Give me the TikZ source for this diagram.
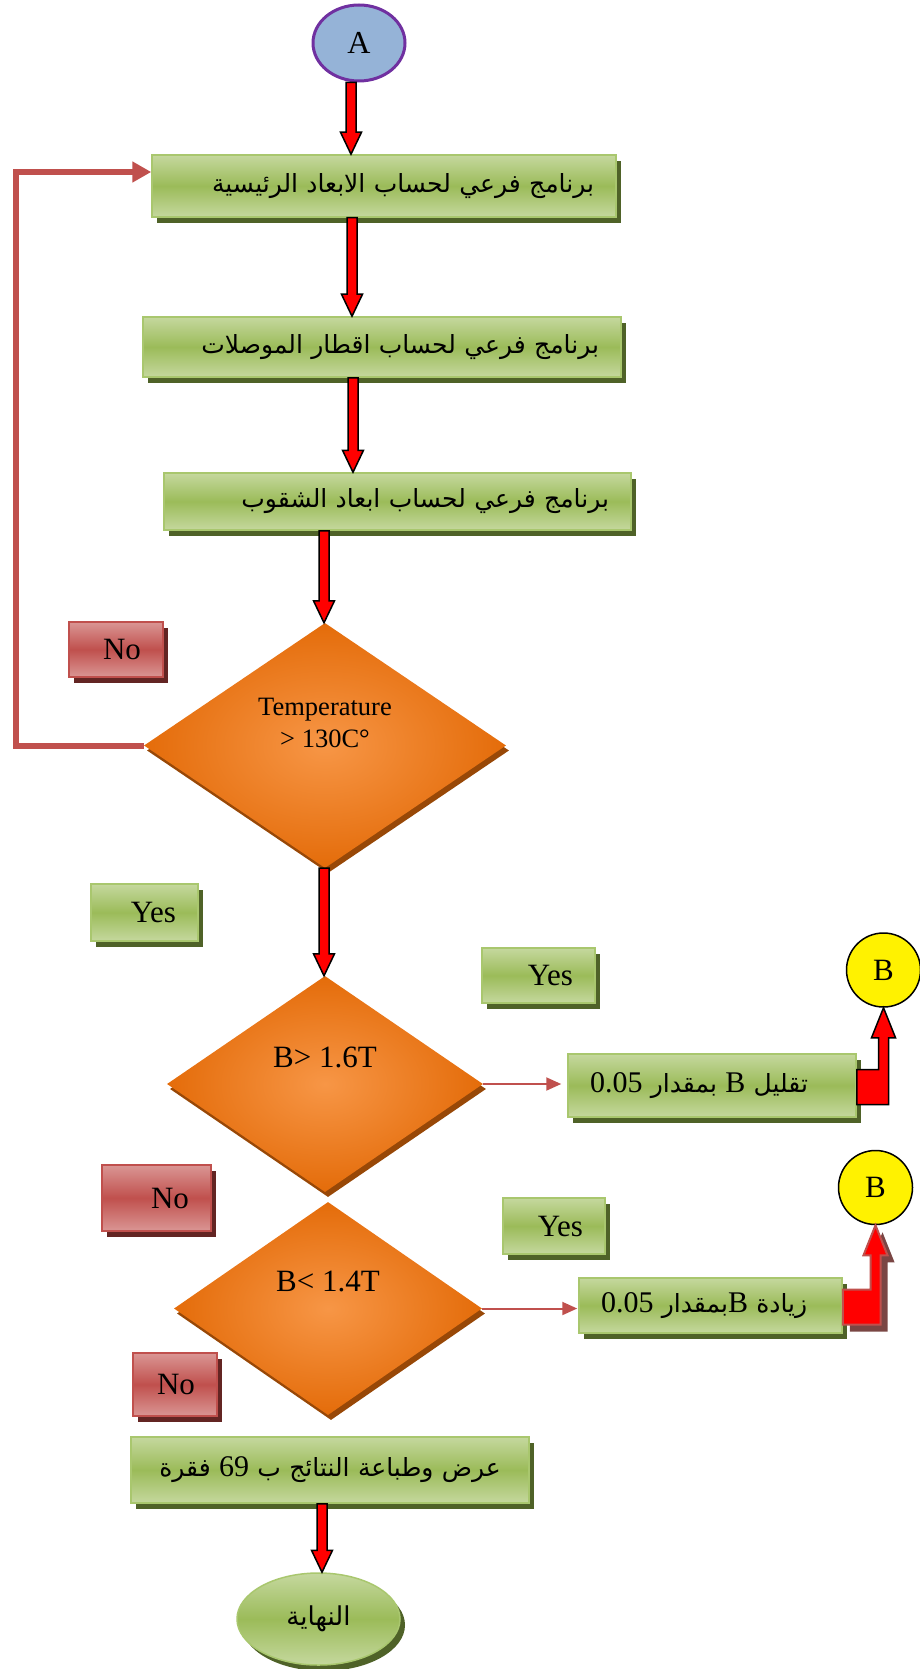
\documentclass[tikz,border=0pt]{standalone}
\usepackage{fontspec}
\setmainfont{Liberation Serif}
\newfontfamily\arabicfont[Script=Arabic]{DejaVu Sans}
\TeXXeTstate=1
\usetikzlibrary{
  arrows.meta,
  shapes.geometric,
  shadows,
  calc
}
\definecolor{fcgreen}{HTML}{9BBB59}
\definecolor{fcgreenlt}{HTML}{C5D89E}
\definecolor{fcgreenedge}{HTML}{A9C76E}
\definecolor{fcgreendk}{HTML}{4F6228}
\definecolor{fcred}{HTML}{C0504D}
\definecolor{fcredlt}{HTML}{DA9694}
\definecolor{fcreddk}{HTML}{632523}
\definecolor{fcorange}{HTML}{E46C0A}
\definecolor{fcorangelt}{HTML}{F79646}
\definecolor{fcorangedk}{HTML}{984807}
\definecolor{fcblue}{HTML}{95B3D7}
\definecolor{fcpurple}{HTML}{7030A0}

% latin pieces inside the arabic lines
\newcommand{\latn}[1]{{\rmfamily\fontsize{30}{36}\selectfont #1}}

% vertical block arrow, from the x of #1 down to the y of #2
\newcommand{\redarrow}[2]{%
  \draw[blockarrow] let \p1=(#1), \p2=(#2) in
    (\x1-5pt,\y1) -- (\x1+5pt,\y1) -- (\x1+5pt,\y2+22pt) -- (\x1+10.5pt,\y2+22pt)
    -- (\x1,\y2) -- (\x1-10.5pt,\y2+22pt) -- (\x1-5pt,\y2+22pt) -- cycle;}

% bent block arrow from the right side of a box up to a connector
\newcommand{\elbowto}[3]{%
  \draw[#1] let \p1=(#2.east), \p2=(#3.south) in
    (\x1,\y1+16pt) -- (\x2-5pt,\y1+16pt) -- (\x2-5pt,\y2-30pt) -- (\x2-12pt,\y2-30pt)
    -- (\x2,\y2) -- (\x2+12pt,\y2-30pt) -- (\x2+5pt,\y2-30pt) -- (\x2+5pt,\y1-19pt)
    -- (\x1,\y1-19pt) -- cycle;}

\begin{document}
\begin{tikzpicture}[
  x=1pt, y=-1pt,
  fcbox/.style={rectangle, inner xsep=22pt, inner ysep=0pt, line width=1.5pt},
  subbox/.style={fcbox, draw=fcgreenedge, top color=fcgreenlt, bottom color=fcgreenlt,
    middle color=fcgreen,
    drop shadow={shadow xshift=5pt, shadow yshift=-6pt, fill=fcgreendk, opacity=1},
    font=\arabicfont\fontsize{25}{30}\selectfont},
  yesbox/.style={subbox, align=right, font=\rmfamily\fontsize{31}{36}\selectfont},
  nobox/.style={fcbox, draw=fcred, top color=fcredlt, bottom color=fcredlt,
    middle color=fcred, align=right,
    drop shadow={shadow xshift=5pt, shadow yshift=-6pt, fill=fcreddk, opacity=1},
    font=\rmfamily\fontsize{31}{36}\selectfont},
  decision/.style={diamond, inner sep=0pt, inner color=fcorangelt, outer color=fcorange,
    drop shadow={shadow xshift=3pt, shadow yshift=-5pt, fill=fcorangedk, opacity=1},
    font=\fontsize{31}{36}\selectfont},
  connA/.style={ellipse, draw=fcpurple, line width=3pt, fill=fcblue,
    minimum width=92pt, minimum height=76pt, font=\fontsize{32}{38}\selectfont},
  connB/.style={circle, draw=black, line width=1.5pt, fill=yellow, inner sep=0pt,
    minimum size=74pt, font=\fontsize{31}{36}\selectfont},
  endnode/.style={ellipse, draw=fcgreenedge, line width=1.5pt, top color=fcgreenlt,
    bottom color=fcgreenlt, middle color=fcgreen,
    drop shadow={shadow xshift=5pt, shadow yshift=-6pt, fill=fcgreendk, opacity=1},
    minimum width=163pt, minimum height=92pt,
    font=\arabicfont\fontsize{26}{31}\selectfont},
  blockarrow/.style={draw=black, line width=1.5pt, fill=red, line join=miter},
  elbowplain/.style={draw=black, line width=1.5pt, fill=red},
  elbowshade/.style={draw=fcred, line width=2pt, fill=red,
    drop shadow={shadow xshift=7pt, shadow yshift=-7pt, fill=fcreddk!85, opacity=1}},
  thinline/.style={draw=fcred, line width=2pt, -{Triangle[length=15pt, width=13pt]}},
  loopline/.style={draw=fcred, line width=6pt, -{Triangle[length=19pt, width=20pt]}}
]
  \useasboundingbox (0,0) rectangle (920,1669);

  % main column
  \node[connA] (ca) at (359,43) {A};
  \node[subbox, text width=420pt, align=right, minimum height=62pt] (sub1) at (384,186)
    {\beginR برنامج فرعي لحساب الابعاد الرئيسية\endR};
  \node[subbox, text width=434pt, align=right, minimum height=60pt] (sub2) at (382,347)
    {\beginR برنامج فرعي لحساب اقطار الموصلات\endR};
  \node[subbox, text width=423pt, align=right, minimum height=57pt] (sub3) at (397.5,501.5)
    {\beginR برنامج فرعي لحساب ابعاد الشقوب\endR};
  \node[decision, minimum width=362pt, minimum height=245pt] (dia1) at (325,745.5)
    {\raisebox{14pt}[0pt][0pt]{\fontsize{26.5}{32}\selectfont
      \begin{tabular}{@{}c@{}}Temperature\\> 130C°\end{tabular}}};
  \node[decision, minimum width=316pt, minimum height=216pt] (dia2) at (325,1084)
    {\raisebox{17pt}[0pt][0pt]{B> 1.6T}};
  \node[decision, minimum width=308pt, minimum height=213pt] (dia3) at (328,1308.5)
    {\raisebox{17.5pt}[0pt][0pt]{B< 1.4T}};
  \node[subbox, text width=354pt, align=center, minimum height=66pt] (res) at (330,1470)
    {\beginR عرض وطباعة النتائج ب \beginL\latn{69}\endL{} فقرة\endR};
  \node[endnode] (fin) at (318.5,1619) {\beginR النهاية\endR};

  % side branches
  \node[subbox, text width=244pt, align=left, minimum height=63pt] (dec) at (712,1085.5)
    {\beginR تقليل \latn{B} بمقدار \beginL\latn{0.05}\endL\endR};
  \node[subbox, text width=219pt, align=left, minimum height=55pt] (inc) at (710.5,1305.5)
    {\beginR زيادة \latn{B}بمقدار \beginL\latn{0.05}\endL\endR};
  \node[connB] (cb1) at (883.5,970) {B};
  \node[connB] (cb2) at (875.5,1187.5) {B};

  % yes / no tags
  \node[nobox, text width=50pt, minimum height=55pt] (no1) at (116,649.5) {No};
  \node[nobox, text width=65pt, minimum height=66pt] (no2) at (156.5,1198) {No};
  \node[nobox, text width=40pt, minimum height=63pt] (no3) at (175,1384.5) {No};
  \node[yesbox, text width=63pt, minimum height=57pt] (yes1) at (144.5,912.5) {Yes};
  \node[yesbox, text width=69pt, minimum height=55pt] (yes2) at (538.5,975.5) {Yes};
  \node[yesbox, text width=58pt, minimum height=56pt] (yes3) at (554,1226) {Yes};

  % block arrows
  \redarrow{[xshift=-8pt]ca.south}{sub1.north}
  \redarrow{[xshift=-32pt]sub1.south}{sub2.north}
  \redarrow{[xshift=-29pt]sub2.south}{sub3.north}
  \redarrow{[xshift=-73.5pt]sub3.south}{dia1.north}
  \redarrow{[xshift=-1pt]dia1.south}{dia2.north}
  \redarrow{[xshift=-8pt]res.south}{fin.north}

  % branches to the B connectors
  \draw[thinline, shorten >=6pt] (dia2.east) -- (dia2.east -| dec.west);
  \draw[thinline, shorten >=1pt] (dia3.east) -- (dia3.east -| inc.west);
  \elbowto{elbowplain}{dec}{cb1}
  \elbowto{elbowshade}{inc}{cb2}

  % loop back
  \coordinate (loopc) at (16,172);
  \draw[loopline] (dia1.west) -| (loopc) -- (loopc -| sub1.west);
\end{tikzpicture}
\end{document}
